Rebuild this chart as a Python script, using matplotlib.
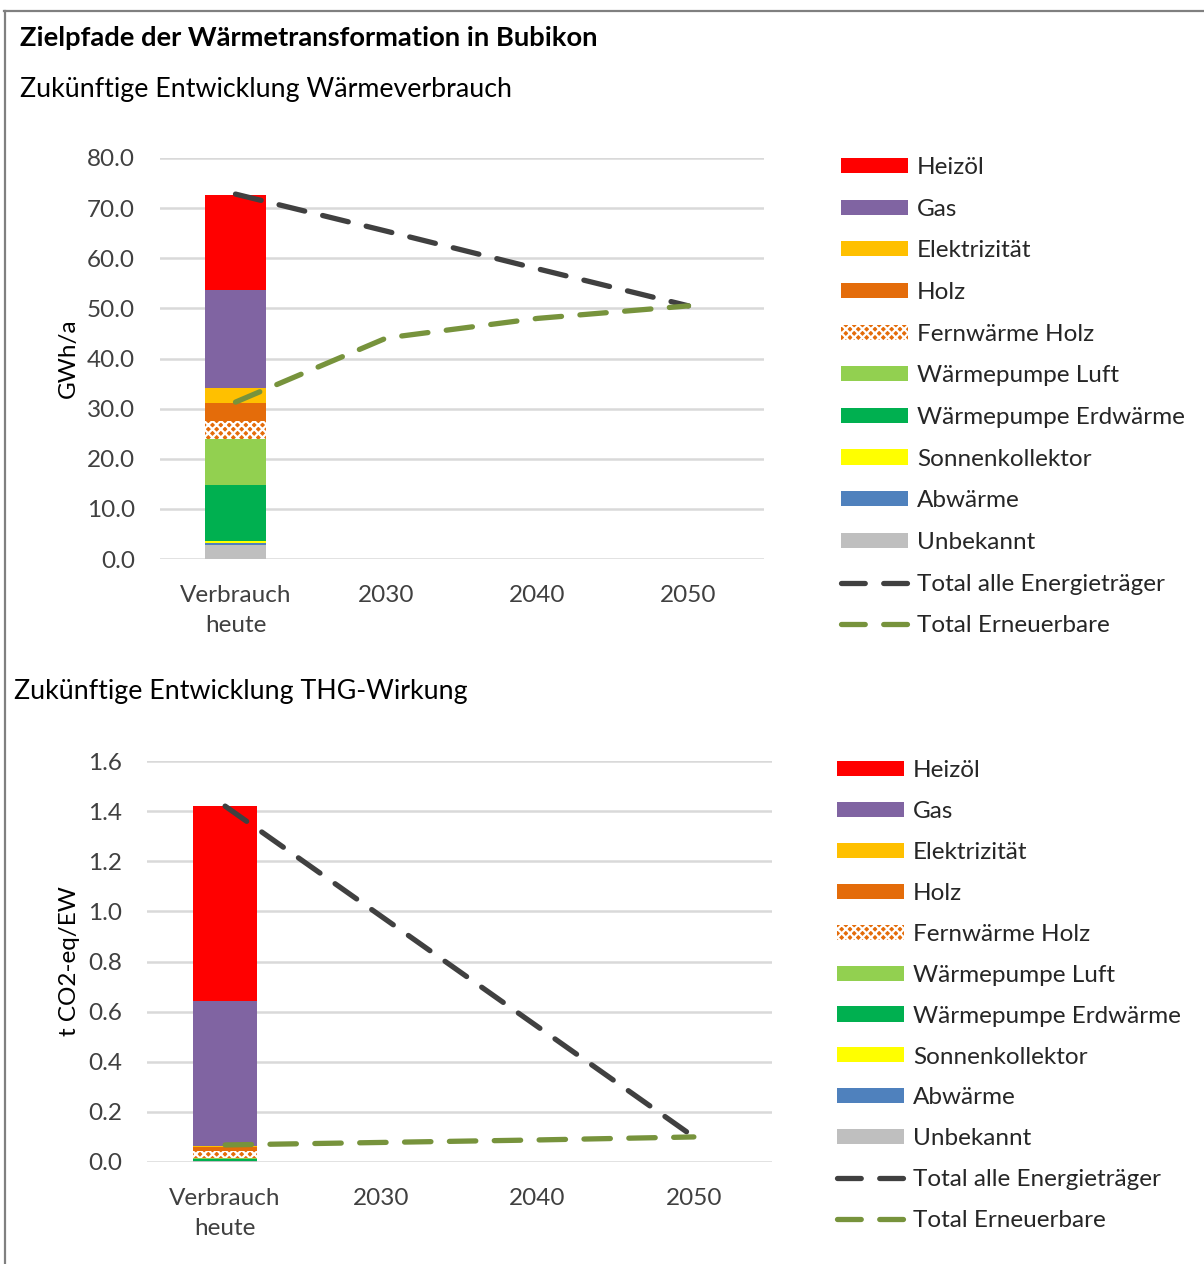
import matplotlib
matplotlib.use('Agg')
import matplotlib.pyplot as plt
from matplotlib.lines import Line2D
from matplotlib.patches import Patch
import numpy as np

plt.rcParams['font.family'] = ['Lato', 'DejaVu Sans']
plt.rcParams['hatch.linewidth'] = 1.6

# --- data -------------------------------------------------------------
categories = ['Verbrauch\nheute', '2030', '2040', '2050']
carriers = ['Heizöl', 'Gas', 'Elektrizität', 'Holz', 'Fernwärme Holz',
            'Wärmepumpe Luft', 'Wärmepumpe Erdwärme', 'Sonnenkollektor',
            'Abwärme', 'Unbekannt']
colors = ['#FF0000', '#8064A2', '#FFC000', '#E46C0A', '#E46C0A',
          '#92D050', '#00B050', '#FFFF00', '#4F81BD', '#BFBFBF']

# today's consumption per carrier, GWh/a (same order as carriers)
verbrauch_heute = [19.0, 19.5, 3.0, 3.6, 3.6, 9.2, 11.25, 0.3, 0.4, 2.85]
total_verbrauch = [72.8, 65.4, 57.9, 50.5]
erneuerbar_verbrauch = [31.3, 44.1, 48.0, 50.5]

# today's GHG effect per carrier, t CO2-eq/EW
thg_heute = [0.78, 0.577, 0.003, 0.016, 0.027, 0.004, 0.008, 0.0005, 0.001, 0.004]
total_thg = [1.42, 0.98, 0.54, 0.10]
erneuerbar_thg = [0.068, 0.078, 0.088, 0.10]

FS = 17.5
TICK_COLOR = '#404040'
W, H = 1204, 1264


def fx(px):
    return px / W


def fy(py):
    return 1 - py / H


def draw_panel(ax, values, total, renew, yticks, fmt, ylabel):
    x = np.arange(len(categories))
    # stacked bar, bottom to top = reverse order of carriers
    bottom = 0.0
    for i in range(len(carriers) - 1, -1, -1):
        hatch = 'xxxx' if carriers[i] == 'Fernwärme Holz' else None
        ec = 'white' if hatch else colors[i]
        ax.bar(x[0], values[i], 0.41, bottom=bottom, color=colors[i],
               edgecolor=ec, hatch=hatch, linewidth=0, zorder=2)
        bottom += values[i]

    ax.plot(x, total, color='#404040', lw=3.8, dashes=(5, 3.5),
            dash_capstyle='round', zorder=3)
    ax.plot(x, renew, color='#77933C', lw=3.8, dashes=(5, 3.5),
            dash_capstyle='round', zorder=3)

    ax.set_xlim(-0.5, len(categories) - 0.5)
    ax.set_ylim(yticks[0], yticks[-1])
    ax.set_yticks(yticks)
    ax.set_yticklabels([fmt.format(v) for v in yticks])
    ax.set_xticks(x)
    ax.set_xticklabels(categories, linespacing=1.5)
    ax.yaxis.grid(True, color='#D9D9D9', lw=1.8, zorder=0)
    ax.set_axisbelow(True)
    for s in ax.spines.values():
        s.set_visible(False)
    ax.tick_params(axis='both', length=0, labelsize=FS, colors=TICK_COLOR)
    ax.tick_params(axis='y', pad=18)
    ax.tick_params(axis='x', pad=19)
    ax.set_ylabel(ylabel, fontsize=FS, color='black', labelpad=6)


def legend_handles():
    handles = []
    for c, name in zip(colors, carriers):
        if name == 'Fernwärme Holz':
            handles.append(Patch(facecolor=c, edgecolor='white', hatch='xxxx', linewidth=0))
        else:
            handles.append(Patch(facecolor=c, edgecolor='none'))
    handles.append(Line2D([], [], color='#404040', lw=3.8, dashes=(4.5, 3.5),
                          dash_capstyle='round'))
    handles.append(Line2D([], [], color='#77933C', lw=3.8, dashes=(4.5, 3.5),
                          dash_capstyle='round'))
    labels = carriers + ['Total alle Energieträger', 'Total Erneuerbare']
    return handles, labels


fig = plt.figure(figsize=(W / 100, H / 100), dpi=100)

# frame lines
fig.add_artist(Line2D([fx(4), 1], [fy(11), fy(11)], color='#808080', lw=1.6))
fig.add_artist(Line2D([fx(5), fx(5)], [fy(11), 0], color='#808080', lw=1.6))

fig.text(fx(20), fy(38), 'Zielpfade der Wärmetransformation in Bubikon',
         fontsize=19.7, fontweight='bold', va='center', ha='left')
fig.text(fx(20), fy(89), 'Zukünftige Entwicklung Wärmeverbrauch',
         fontsize=19.3, va='center', ha='left')
fig.text(fx(14), fy(692), 'Zukünftige Entwicklung THG-Wirkung',
         fontsize=19.3, va='center', ha='left')

ax1 = fig.add_axes([fx(160), fy(559), fx(764 - 160), (559 - 158) / H])
draw_panel(ax1, verbrauch_heute, total_verbrauch, erneuerbar_verbrauch,
           np.arange(0, 80.1, 10), '{:.1f}', 'GWh/a')

ax2 = fig.add_axes([fx(147), fy(1162), fx(772 - 147), (1162 - 761) / H])
draw_panel(ax2, thg_heute, total_thg, erneuerbar_thg,
           np.round(np.arange(0, 1.61, 0.2), 1), '{:.1f}', 't CO2-eq/EW')

h, l = legend_handles()
for anchor, spacing in [((fx(841), fy(157)), 0.85), ((fx(837), fy(760)), 0.82)]:
    fig.legend(h, l, loc='upper left', bbox_to_anchor=anchor, frameon=False,
               fontsize=FS, handlelength=2.75, handleheight=0.58,
               handletextpad=0.37, labelspacing=spacing, borderpad=0,
               borderaxespad=0, labelcolor='#262626')

fig.savefig('out.png', dpi=100)
